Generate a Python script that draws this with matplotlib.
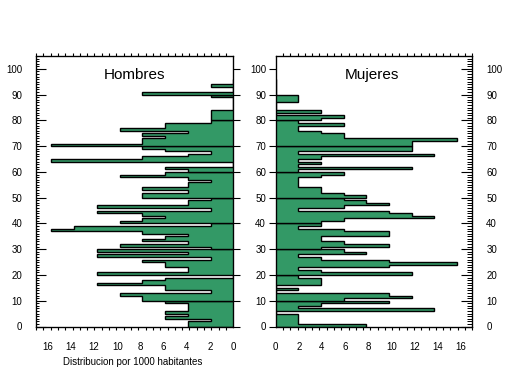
import numpy as np
import matplotlib
matplotlib.use('Agg')
import matplotlib.pyplot as plt
from matplotlib.ticker import MultipleLocator, FixedLocator

plt.rcParams['font.family'] = ['Liberation Sans', 'DejaVu Sans']

# age bins (one year each), edges 0..96
age_edges = list(range(0, 97))

# per-1000 values, age 0 .. 95
hombres = [3.92, 3.92, 1.96, 5.88, 3.92, 5.88, 3.92, 3.92, 3.92, 5.88,
           7.84, 7.84, 9.80, 1.96, 5.88, 5.88, 11.76, 7.84, 5.88, 0.0,
           11.76, 3.92, 3.92, 5.88, 5.88, 7.84, 1.96, 11.76, 3.92, 11.76,
           1.96, 9.80, 3.92, 7.84, 5.88, 3.92, 7.84, 15.69, 13.73, 1.96,
           9.80, 7.84, 5.88, 7.84, 11.76, 1.96, 11.76, 3.92, 3.92, 1.96,
           7.84, 7.84, 3.92, 7.84, 3.92, 3.92, 1.96, 3.92, 9.80, 5.88,
           3.92, 5.88, 0.0, 0.0, 15.69, 7.84, 3.92, 1.96, 5.88, 7.84,
           15.69, 7.84, 7.84, 5.88, 7.84, 3.92, 9.80, 5.88, 5.88, 1.96,
           1.96, 1.96, 1.96, 1.96, 0.0, 0.0, 0.0, 0.0, 0.0, 1.96,
           7.84, 0.0, 0.0, 1.96, 0.0, 0.0]

mujeres = [7.84, 1.96, 1.96, 1.96, 1.96, 0.0, 13.73, 1.96, 3.92, 9.80,
           5.88, 11.76, 9.80, 0.0, 1.96, 0.0, 3.92, 3.92, 3.92, 1.96,
           11.76, 3.92, 1.96, 9.80, 15.69, 9.80, 3.92, 1.96, 7.84, 5.88,
           3.92, 9.80, 5.88, 3.92, 3.92, 9.80, 9.80, 5.88, 1.96, 3.92,
           3.92, 5.88, 13.73, 11.76, 9.80, 1.96, 5.88, 9.80, 7.84, 5.88,
           7.84, 5.88, 3.92, 3.92, 1.96, 1.96, 1.96, 1.96, 3.92, 5.88,
           1.96, 11.76, 1.96, 3.92, 1.96, 3.92, 13.73, 1.96, 11.76, 11.76,
           11.76, 11.76, 15.69, 5.88, 5.88, 3.92, 1.96, 1.96, 5.88, 1.96,
           3.92, 5.88, 0.0, 3.92, 0.0, 0.0, 0.0, 1.96, 1.96, 1.96,
           0.0, 0.0, 0.0, 0.0, 0.0, 0.0]

x_ticks = [0, 2, 4, 6, 8, 10, 12, 14, 16]
y_ticks = [0, 10, 20, 30, 40, 50, 60, 70, 80, 90, 100]

GREEN = '#339966'
W, H = 509, 376
fig = plt.figure(figsize=(W / 100, H / 100), dpi=100)

def frac(x0, y0, x1, y1):
    return [x0 / W, 1 - y1 / H, (x1 - x0) / W, (y1 - y0) / H]

axL = fig.add_axes(frac(36, 56, 233.3, 326.5))
axR = fig.add_axes(frac(275.7, 56, 472.3, 326.5))

YMAX = 105.0
XMAX = 17.0

def draw(ax, vals):
    n = len(vals)
    for d in range(0, n, 10):
        v = vals[d:d + 10]
        e = age_edges[d:d + len(v) + 1]
        ax.stairs(v, e, orientation='horizontal', fill=True, baseline=0,
                  facecolor=GREEN, edgecolor='black', linewidth=1.0, zorder=2)

draw(axL, hombres)
draw(axR, mujeres)

minor_x = list(np.linspace(0, XMAX, 28))

for ax in (axL, axR):
    ax.set_ylim(0, YMAX)
    for s in ax.spines.values():
        s.set_linewidth(0.9)
        s.set_zorder(5)
    ax.xaxis.set_major_locator(FixedLocator(x_ticks))
    ax.xaxis.set_minor_locator(FixedLocator(minor_x))
    ax.tick_params(axis='x', which='major', length=0, pad=11, labelsize=7)
    ax.tick_params(axis='x', which='minor', direction='out', length=2.5,
                   top=True, bottom=True, width=0.8)
    ax.yaxis.set_major_locator(FixedLocator(y_ticks))

axL.set_xlim(XMAX, 0)
axR.set_xlim(0, XMAX)

# left panel: inward ticks + labels on left, outward ticks on right spine
axL.yaxis.set_minor_locator(MultipleLocator(1))
axL.tick_params(axis='y', which='major', direction='in', length=7, width=0.8,
                left=True, right=False, labelleft=True, labelsize=7, pad=10)
axL.tick_params(axis='y', which='minor', direction='in', length=2.5, width=0.7,
                left=True, right=False)
tL = axL.twinx()
tL.set_ylim(0, YMAX)
tL.yaxis.set_major_locator(FixedLocator(y_ticks))
tL.tick_params(axis='y', which='major', direction='out', length=5, width=0.8,
               right=True, labelright=False)
tL.tick_params(axis='y', which='minor', length=0)

# right panel: outward ticks + labels on left, inward ticks + labels on right
axR.tick_params(axis='y', which='major', direction='out', length=5, width=0.8,
                left=True, right=False, labelleft=True, labelsize=7, pad=2)
axR.tick_params(axis='y', which='minor', length=0)
tR = axR.twinx()
tR.set_ylim(0, YMAX)
tR.yaxis.set_major_locator(FixedLocator(y_ticks))
tR.yaxis.set_minor_locator(MultipleLocator(1))
tR.tick_params(axis='y', which='major', direction='in', length=8, width=0.8,
               right=True, labelright=True, labelsize=7, pad=10)
tR.tick_params(axis='y', which='minor', direction='in', length=3.5, width=0.7,
               right=True)

axL.text(0.5, 0.93, 'Hombres', transform=axL.transAxes, ha='center',
         va='center', fontsize=11)
axR.text(0.49, 0.93, 'Mujeres', transform=axR.transAxes, ha='center',
         va='center', fontsize=11)

fig.text(133 / W, 1 - 362 / H, 'Distribucion por 1000 habitantes',
         ha='center', va='center', fontsize=7)

fig.savefig('out.png', dpi=100)
